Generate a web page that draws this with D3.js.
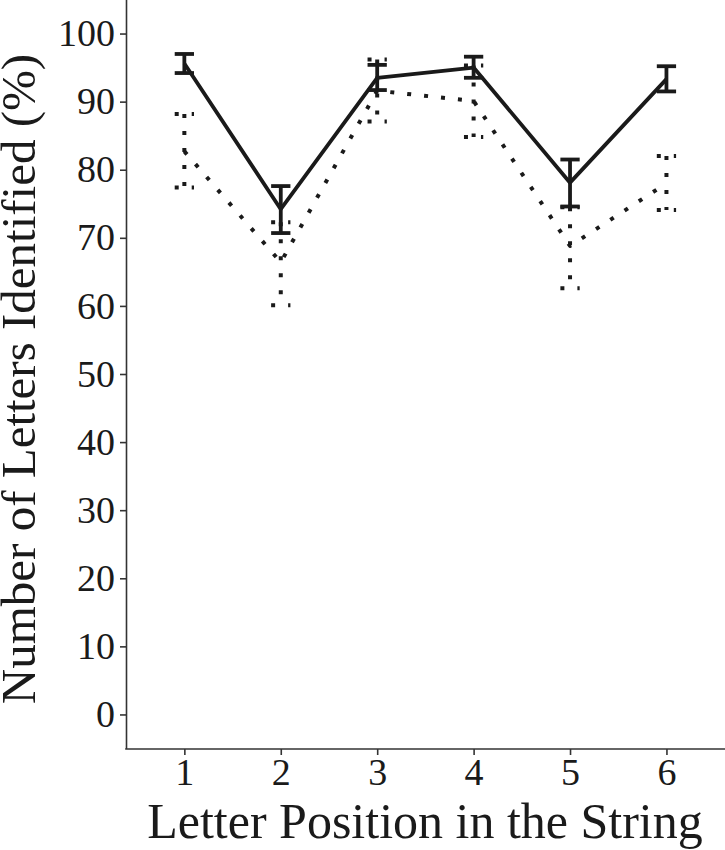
<!DOCTYPE html>
<html>
<head>
<meta charset="utf-8">
<script src="https://cdn.jsdelivr.net/npm/d3@7"></script>
<style>
  html, body { margin: 0; padding: 0; background: #fff; }
  svg { display: block; }
</style>
</head>
<body>
<script>
// ---- data ----
const positions = [1, 2, 3, 4, 5, 6];
const solidMean  = [95.6, 74.2, 93.5, 95.0, 78.1, 93.3];
const solidLow   = [94.2, 70.7, 91.7, 93.5, 74.6, 91.5];
const solidHigh  = [97.0, 77.6, 95.4, 96.6, 81.5, 95.2];
const dottedMean = [82.7, 66.4, 91.6, 90.1, 68.8, 78.0];
const dottedLow  = [77.4, 60.1, 87.1, 84.8, 62.6, 74.1];
const dottedHigh = [88.2, 72.3, 96.2, 95.3, 74.5, 82.0];
const yTicks = [0, 10, 20, 30, 40, 50, 60, 70, 80, 90, 100];
const xTitle = "Letter Position in the String";
const yTitle = "Number of Letters Identified (%)";

const W = 725, H = 850;
const FONT = "'Liberation Serif', 'Times New Roman', serif";
const ink = "#1a1a1a";

const svg = d3.select("body").append("svg").attr("width", W).attr("height", H);

const x = d3.scaleLinear().domain([0.4, 6.6]).range([126.5, 724.3]);
const y = d3.scaleLinear().domain([-5, 105]).range([748.5, -0.5]);
const axisX0 = 126, axisY0 = 749;

// axes
const gy = svg.append("g").attr("transform", `translate(${axisX0},0)`)
  .call(d3.axisLeft(y).tickValues(yTicks).tickSize(6).tickSizeOuter(0).tickPadding(5));
const gx = svg.append("g").attr("transform", `translate(0,${axisY0})`)
  .call(d3.axisBottom(x).tickValues(positions).tickFormat(d3.format("d")).tickSize(6).tickSizeOuter(0).tickPadding(3));

[gx, gy].forEach(g => {
  g.select(".domain").attr("stroke", "#333").attr("stroke-width", 1.6);
  g.selectAll(".tick line").attr("stroke", "#333").attr("stroke-width", 1.6);
  g.selectAll(".tick text").attr("fill", ink).style("font-family", FONT).style("font-size", "38px");
});
// make the domain lines meet at the corner
gx.select(".domain").attr("d", `M${axisX0 - 0.8},0H${W}`);

// series
function drawSeries(mean, low, high, dash, width) {
  const g = svg.append("g");
  const pts = positions.map((p, i) => [x(p), y(mean[i])]);
  g.append("path")
    .attr("d", d3.line()(pts))
    .attr("fill", "none")
    .attr("stroke", ink)
    .attr("stroke-width", width)
    .attr("stroke-linejoin", "round")
    .attr("stroke-dasharray", dash);
  const cw = 0.1;
  positions.forEach((p, i) => {
    const segs = [
      [[x(p - cw), y(high[i])], [x(p + cw), y(high[i])]],
      [[x(p), y(high[i])], [x(p), y(low[i])]],
      [[x(p - cw), y(low[i])], [x(p + cw), y(low[i])]]
    ];
    segs.forEach(s => {
      g.append("path")
        .attr("d", d3.line()(s))
        .attr("fill", "none")
        .attr("stroke", ink)
        .attr("stroke-width", width)
        .attr("stroke-dasharray", dash);
    });
  });
}
drawSeries(dottedMean, dottedLow, dottedHigh, "4,13", 4);
drawSeries(solidMean, solidLow, solidHigh, null, 3.8);

// titles
svg.append("text")
  .attr("x", 425).attr("y", 838)
  .attr("text-anchor", "middle")
  .attr("fill", ink)
  .style("font-family", FONT).style("font-size", "50px")
  .text(xTitle);

svg.append("text")
  .attr("transform", "translate(35,379) rotate(-90)")
  .attr("text-anchor", "middle")
  .attr("fill", ink)
  .style("font-family", FONT).style("font-size", "49px")
  .text(yTitle);
</script>
</body>
</html>
